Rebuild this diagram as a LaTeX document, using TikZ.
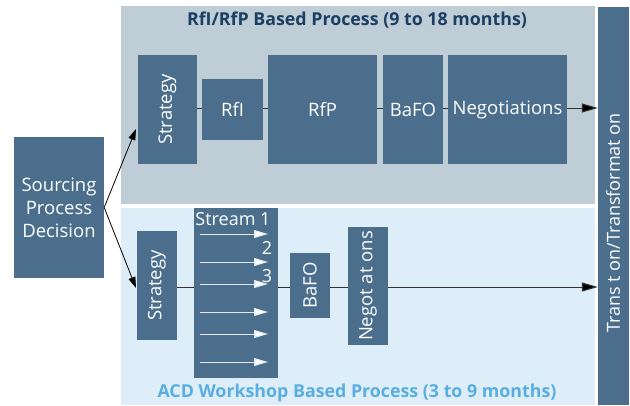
\documentclass[tikz,border=0pt]{standalone}
\usepackage{fontspec}
\setmainfont{Open Sans}
\usetikzlibrary{arrows.meta}
\definecolor{boxblue}{HTML}{4A6E8C}
\definecolor{panelgrey}{HTML}{BFCDD6}
\definecolor{panellight}{HTML}{DDEEF8}
\definecolor{titledark}{HTML}{1B3F63}
\definecolor{titlelight}{HTML}{5AADE0}
\definecolor{linegrey}{HTML}{333333}
\begin{document}
\begin{tikzpicture}[x=1pt,y=-1pt,
  wh/.style 2 args={minimum width=#1pt, minimum height=#2pt},
  panel/.style={inner sep=0pt},
  box/.style={fill=boxblue, text=white, inner sep=0pt, align=center,
    font=\fontsize{18.5}{23}\selectfont},
  vbox/.style={box, rotate=90},
  title/.style={font=\fontsize{17.8}{20}\selectfont\bfseries},
  flow/.style={draw=linegrey, line width=1pt},
  flowarrow/.style={flow, -{Triangle[length=16pt,width=9pt,fill=black]}},
  split/.style={draw=black, line width=0.8pt, -{Triangle[length=11pt,width=7pt]}},
  streamarrow/.style={draw=white!85!boxblue, line width=1pt, -{Triangle[length=14pt,width=8pt,fill=white]}},
  streamlabel/.style={text=white, inner sep=0pt, font=\fontsize{18}{20}\selectfont}]
\useasboundingbox (0,0) rectangle (630,405);

% background panels
\node[panel, fill=panelgrey, wh={474}{198}] (ptop) at (358,105) {};
\node[panel, fill=panellight, wh={474}{197}] (pbot) at (358,306.5) {};
\node[title, text=titledark] (ttop) at (357,20) {RfI/RfP Based Process (9 to 18 months)};
\node[title, text=titlelight] (tbot) at (357,393) {ACD Workshop Based Process (3 to 9 months)};

% transition bar
\node[box, wh={31}{398}] (bar) at (613.5,206) {};
\node[vbox, fill=none, font=\fontsize{18}{20}\selectfont] (bartext) at (613,223) {Trans t on/Transformat on};

% decision
\node[box, wh={90}{141}] (src) at (59,207.5) {Sourcing\\Process\\Decision};

% RfI/RfP process
\draw[flow] (167.5,108) -- (507.5,108);
\node[vbox, wh={109}{59}] (s1) at (167.5,109.5) {Strategy};
\node[box, wh={61}{61}] (rfi) at (232.5,109.5) {RfI};
\node[box, wh={109}{109}] (rfp) at (322.5,109.5) {RfP};
\node[box, wh={60}{109}] (bafo1) at (413,109.5) {BaFO};
\node[box, wh={119}{109}] (neg1) at (507.5,109.5) {Negotiations};
\coordinate (endtop) at (bar.west |- 0,108);
\draw[flowarrow] (neg1.east |- endtop) -- (endtop);

% ACD workshop process
\coordinate (endbot) at (bar.west |- 0,287);
\draw[flowarrow] (157,287) -- (endbot);
\node[vbox, wh={109}{40}] (s2) at (157,285.5) {Strategy};
\node[box, wh={84}{170}] (stream) at (236,292.5) {};
\node[vbox, wh={65}{40}] (bafo2) at (310,285.5) {BaFO};
\node[vbox, wh={118}{40}] (neg2) at (368,286) {Negot at ons};

\foreach \yy in {234,262,284,312,334,362}
  \draw[streamarrow] (200,\yy) -- (268,\yy);
\node[streamlabel] (st1) at (233,219) {Stream 1};
\node[streamlabel] (st2) at (267,248) {2};
\node[streamlabel] (st3) at (267,276) {3};

% decision split
\coordinate (intop) at (136,129);
\coordinate (inbot) at (136,288);
\draw[split] (src.east) -- (intop);
\draw[split] (src.east) -- (inbot);
\end{tikzpicture}
\end{document}
